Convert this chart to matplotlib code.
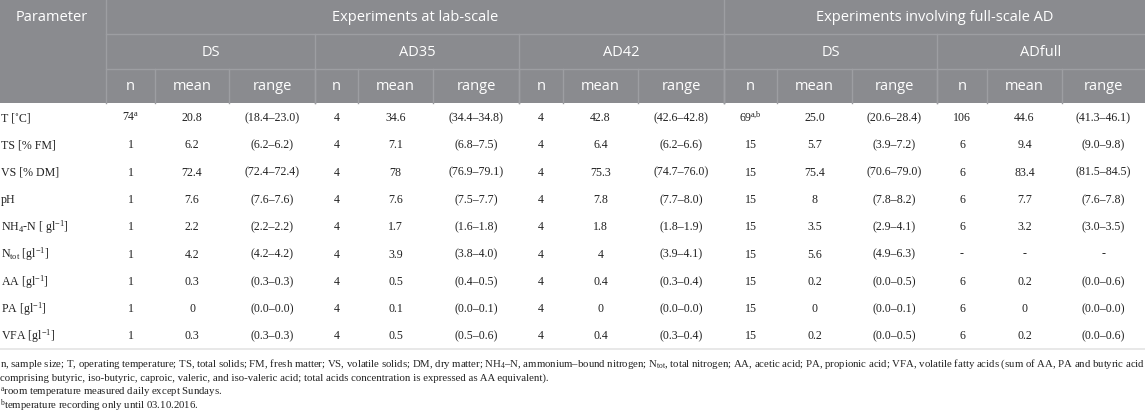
import matplotlib.pyplot as plt
from matplotlib.patches import Rectangle

plt.rcParams['mathtext.fontset'] = 'custom'
plt.rcParams['mathtext.rm'] = 'Liberation Serif'
plt.rcParams['mathtext.it'] = 'Liberation Serif:italic'

# ---- table content ----
params = ["T [˚C]", "TS [% FM]", "VS [% DM]", "pH", r"NH$_4$-N [ gl$^{-1}$]",
          r"N$_{\mathrm{tot}}$ [gl$^{-1}$]", r"AA [gl$^{-1}$]", r"PA [gl$^{-1}$]",
          r"VFA [gl$^{-1}$]"]

ds_lab_n = [r"74$^{\mathrm{a}}$", "1", "1", "1", "1", "1", "1", "1", "1"]
ds_lab_mean = ["20.8", "6.2", "72.4", "7.6", "2.2", "4.2", "0.3", "0", "0.3"]
ds_lab_range = ["(18.4–23.0)", "(6.2–6.2)", "(72.4–72.4)", "(7.6–7.6)", "(2.2–2.2)",
                "(4.2–4.2)", "(0.3–0.3)", "(0.0–0.0)", "(0.3–0.3)"]

ad35_n = ["4"] * 9
ad35_mean = ["34.6", "7.1", "78", "7.6", "1.7", "3.9", "0.5", "0.1", "0.5"]
ad35_range = ["(34.4–34.8)", "(6.8–7.5)", "(76.9–79.1)", "(7.5–7.7)", "(1.6–1.8)",
              "(3.8–4.0)", "(0.4–0.5)", "(0.0–0.1)", "(0.5–0.6)"]

ad42_n = ["4"] * 9
ad42_mean = ["42.8", "6.4", "75.3", "7.8", "1.8", "4", "0.4", "0", "0.4"]
ad42_range = ["(42.6–42.8)", "(6.2–6.6)", "(74.7–76.0)", "(7.7–8.0)", "(1.8–1.9)",
              "(3.9–4.1)", "(0.3–0.4)", "(0.0–0.0)", "(0.3–0.4)"]

ds_full_n = [r"69$^{\mathrm{a}\!,\!\mathrm{b}}$"] + ["15"] * 8
ds_full_mean = ["25.0", "5.7", "75.4", "8", "3.5", "5.6", "0.2", "0", "0.2"]
ds_full_range = ["(20.6–28.4)", "(3.9–7.2)", "(70.6–79.0)", "(7.8–8.2)", "(2.9–4.1)",
                 "(4.9–6.3)", "(0.0–0.5)", "(0.0–0.1)", "(0.0–0.5)"]

adfull_n = ["106", "6", "6", "6", "6", "-", "6", "6", "6"]
adfull_mean = ["44.6", "9.4", "83.4", "7.7", "3.2", "-", "0.2", "0", "0.2"]
adfull_range = ["(41.3–46.1)", "(9.0–9.8)", "(81.5–84.5)", "(7.6–7.8)", "(3.0–3.5)",
                "-", "(0.0–0.6)", "(0.0–0.0)", "(0.0–0.6)"]

groups = ["Experiments at lab-scale", "Experiments involving full-scale AD"]
subgroups = ["DS", "AD35", "AD42", "DS", "ADfull"]
stats = ["n", "mean", "range"]

footnotes = [
    r"n, sample size; T, operating temperature; TS, total solids; FM, fresh matter; VS, volatile solids; "
    r"DM, dry matter; NH$_4$–N, ammonium–bound nitrogen; N$_{\mathrm{tot}}$, total nitrogen; AA, acetic acid; "
    r"PA, propionic acid; VFA, volatile fatty acids (sum of AA, PA and butyric acid",
    "comprising butyric, iso-butyric, caproic, valeric, and iso-valeric acid; total acids concentration "
    "is expressed as AA equivalent).",
    r"$^{\mathrm{a}}$room temperature measured daily except Sundays.",
    r"$^{\mathrm{b}}$temperature recording only until 03.10.2016.",
]

columns = [ds_lab_n, ds_lab_mean, ds_lab_range,
           ad35_n, ad35_mean, ad35_range,
           ad42_n, ad42_mean, ad42_range,
           ds_full_n, ds_full_mean, ds_full_range,
           adfull_n, adfull_mean, adfull_range]

# ---- layout (pixels) ----
W, H = 1145, 412
col_edges = [106, 155, 229, 315, 358, 433, 519, 563, 638, 724,
             777, 852, 937, 987, 1062, 1145]
sub_edges = [106, 315, 519, 724, 937, 1145]
group_edges = [106, 724, 1145]
head_rows = [0, 34, 69, 103]
row_y0 = 118
row_step = 27.3

head_bg = '#8a8b8f'
head_line = '#9d9ea2'
txt = '#222222'
sans = 'Open Sans'
serif = 'Liberation Serif'

fig = plt.figure(figsize=(W / 100, H / 100), dpi=100)
ax = fig.add_axes([0, 0, 1, 1])
ax.set_xlim(0, W)
ax.set_ylim(H, 0)
ax.axis('off')

# header background
ax.add_patch(Rectangle((0, 0), W, head_rows[3], color=head_bg, lw=0))

# header grid lines
for y in head_rows[1:3]:
    ax.plot([106, W], [y, y], color=head_line, lw=1)
for x in group_edges[:2]:
    ax.plot([x, x], [0, head_rows[3]], color=head_line, lw=1)
for x in sub_edges[1:-1]:
    ax.plot([x, x], [head_rows[1], head_rows[3]], color=head_line, lw=1)
for x in col_edges[1:-1]:
    ax.plot([x, x], [head_rows[2], head_rows[3]], color=head_line, lw=1)

# header text
hkw = dict(color='white', family=sans, fontsize=10.5, va='center')
ax.text(16, 17, "Parameter", ha='left', **hkw)
for i, g in enumerate(groups):
    ax.text((group_edges[i] + group_edges[i + 1]) / 2, 17, g, ha='center', **hkw)
for i, s in enumerate(subgroups):
    ax.text((sub_edges[i] + sub_edges[i + 1]) / 2, 52, s, ha='center', **hkw)
for i in range(len(col_edges) - 1):
    ax.text((col_edges[i] + col_edges[i + 1]) / 2, 86, stats[i % 3], ha='center', **hkw)

# body
bkw = dict(color=txt, family=serif, fontsize=8.6, va='center')
for r, p in enumerate(params):
    y = row_y0 + r * row_step
    ax.text(1, y, p, ha='left', **bkw)
    for c, col in enumerate(columns):
        ax.text((col_edges[c] + col_edges[c + 1]) / 2, y, col[r], ha='center', **bkw)

ax.plot([0, W], [349, 349], color='#e4e4e4', lw=1.2)

# footnotes
for i, line in enumerate(footnotes):
    ax.text(0, 364 + i * 13.8, line, ha='left', va='center', color=txt,
            family=serif, fontsize=7.75)

fig.savefig('out.png', dpi=100)
